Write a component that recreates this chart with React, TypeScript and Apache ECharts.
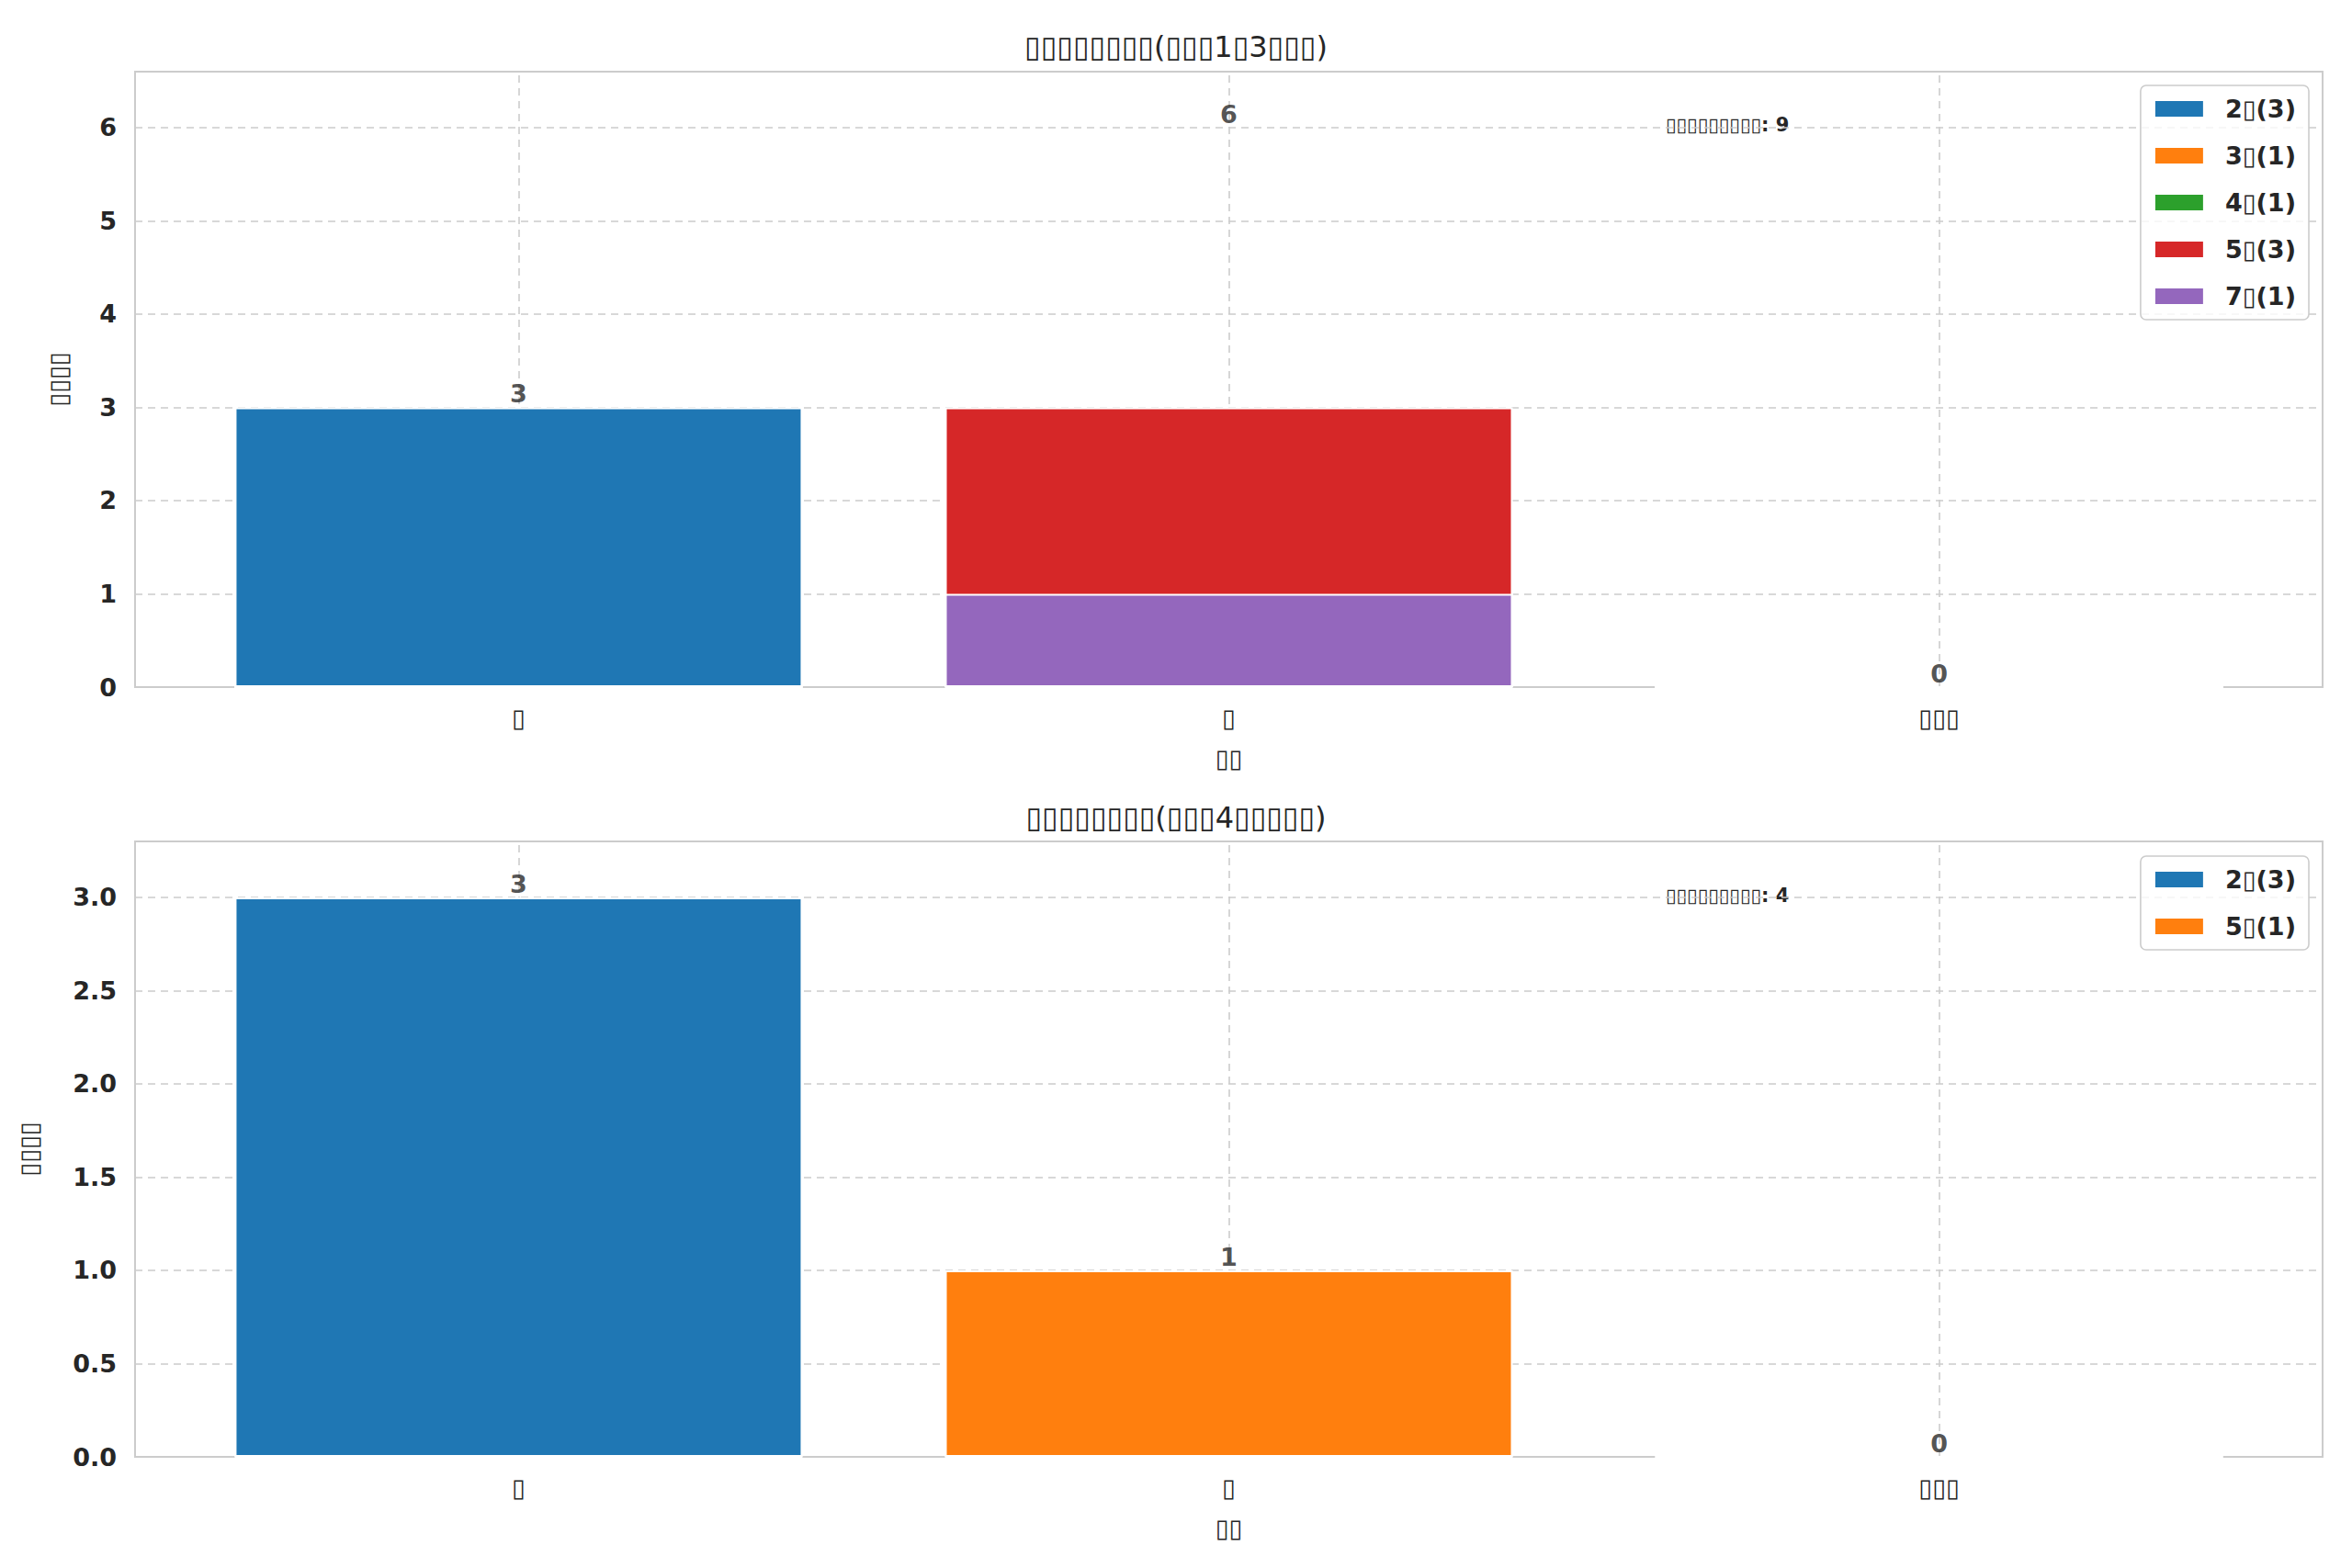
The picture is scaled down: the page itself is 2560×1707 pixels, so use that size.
import React, { useEffect, useRef } from "react";
import * as echarts from "echarts";

const B = "\u25AF";
const categories = [B, B, B + B + B];
const catPos = [0, 1, 2];

const title1 = B.repeat(8) + "(" + B.repeat(3) + "1" + B + "3" + B.repeat(3) + ")";
const title2 = B.repeat(8) + "(" + B.repeat(3) + "4" + B.repeat(5) + ")";
const yName = B.repeat(4);
const xName = B.repeat(2);
const noteLabel = B.repeat(9);

const COLORS = ["#1f77b4", "#ff7f0e", "#2ca02c", "#d62728", "#9467bd"];

// top panel: series name and its value in each category
const top1Names = ["2" + B + "(3)", "3" + B + "(1)", "4" + B + "(1)", "5" + B + "(3)", "7" + B + "(1)"];
const top1Vals = [
  [3, 0, 0],
  [0, 1, 0],
  [0, 1, 0],
  [0, 3, 0],
  [0, 1, 0],
];
const top1Totals = [3, 6, 0];
const top1Note = 9;

const top2Names = ["2" + B + "(3)", "5" + B + "(1)"];
const top2Vals = [
  [3, 0, 0],
  [0, 1, 0],
];
const top2Totals = [3, 1, 0];
const top2Note = 4;

const FONT = "DejaVu Sans, Noto Sans CJK SC, sans-serif";
const GRID_LINE = { color: "#cccccc", type: [8, 6] as any, width: 1.6 };

function buildOption(p: any) {
  const series: any[] = [
    {
      type: "scatter",
      name: "grid",
      symbolSize: 0,
      data: [],
      z: 0,
      markLine: {
        silent: true,
        symbol: "none",
        label: { show: false },
        lineStyle: GRID_LINE,
        data: catPos.map((c) => ({ xAxis: c })),
        z: 0,
      },
    },
  ];
  p.names.forEach((n: string, i: number) =>
    series.push({
      type: "bar",
      name: n,
      stack: "s",
      barWidth: 618,
      z: 3,
      data: p.vals[i].map((v: number, j: number) => [catPos[j], v]),
      itemStyle: { color: COLORS[i], borderColor: "#fff", borderWidth: v0(p.vals[i]) },
    })
  );
  series.push({
    type: "scatter",
    name: "totals",
    symbolSize: 0,
    z: 5,
    data: p.totals.map((t: number, i: number) => [catPos[i], t]),
    label: {
      show: true,
      position: "top",
      distance: 1,
      formatter: (d: any) => String(d.value[1]),
      fontSize: 27,
      fontWeight: "bold",
      color: "#262626",
      fontFamily: FONT,
    },
  });
  return {
    animation: false,
    textStyle: { fontFamily: FONT },
    title: {
      text: p.title,
      left: "center",
      top: p.titleTop,
      textStyle: { fontSize: 32, fontWeight: "normal", color: "#262626", fontFamily: FONT },
    },
    legend: {
      data: p.names,
      orient: "vertical",
      right: 47,
      top: p.legendTop,
      icon: "rect",
      itemWidth: 54,
      itemHeight: 19,
      itemGap: 24,
      padding: [12, 14, 12, 14],
      borderColor: "#cccccc",
      borderWidth: 1.6,
      borderRadius: 6,
      backgroundColor: "rgba(255,255,255,0.8)",
      textStyle: { fontSize: 27, fontWeight: "bold", color: "#262626", fontFamily: FONT, padding: [0, 0, 0, 18] },
    },
    grid: {
      left: 147,
      right: 32,
      top: p.gridTop,
      height: p.gridHeight,
      show: true,
      borderColor: "#cccccc",
      borderWidth: 2,
    },
    xAxis: {
      type: "value",
      min: -0.54,
      max: 2.54,
      name: xName,
      nameLocation: "middle",
      nameGap: 64,
      nameTextStyle: { fontSize: 27, color: "#262626" },
      axisLine: { show: false },
      axisTick: { show: false },
      splitLine: { show: false },
      axisLabel: {
        customValues: catPos,
        formatter: (v: number) => categories[Math.round(v)] ?? "",
        fontSize: 27,
        color: "#262626",
        margin: 20,
      },
    },
    yAxis: {
      type: "value",
      min: 0,
      max: p.yMax,
      interval: p.yInt,
      name: yName,
      nameLocation: "middle",
      nameGap: p.yNameGap,
      nameTextStyle: { fontSize: 27, color: "#262626" },
      axisLine: { show: false },
      axisTick: { show: false },
      axisLabel: {
        fontSize: 27,
        fontWeight: "bold",
        color: "#262626",
        margin: 20,
        formatter: (v: number) => (v > p.yMax - 0.2 ? "" : p.yFmt(v)),
      },
      splitLine: { lineStyle: GRID_LINE },
    },
    graphic: [
      {
        type: "text",
        left: 1813,
        top: p.noteTop,
        style: {
          text: noteLabel + ": " + p.note,
          fontSize: 21,
          fontWeight: "bold",
          fill: "#262626",
          fontFamily: FONT,
        },
      },
    ],
    series,
  };
}

function v0(_: number[]) {
  return 2;
}

function Panel({ opt, height }: { opt: any; height: number }) {
  const ref = useRef<HTMLDivElement>(null);
  useEffect(() => {
    const c = echarts.init(ref.current!, null, { renderer: "svg" });
    c.setOption(opt);
    return () => c.dispose();
  }, []);
  return <div ref={ref} style={{ width: 2560, height }} />;
}

export default function App() {
  const o1 = buildOption({
    names: top1Names, vals: top1Vals, totals: top1Totals, note: top1Note,
    title: title1, titleTop: 30, legendTop: 93, gridTop: 78, gridHeight: 670,
    yMax: 6.6, yInt: 1, yFmt: (v: number) => String(v), yNameGap: 70, noteTop: 125,
  });
  const o2 = buildOption({
    names: top2Names, vals: top2Vals, totals: top2Totals, note: top2Note,
    title: title2, titleTop: 16, legendTop: 79, gridTop: 63, gridHeight: 670,
    yMax: 3.3, yInt: 0.5, yFmt: (v: number) => v.toFixed(1), yNameGap: 102, noteTop: 111,
  });
  return (
    <div style={{ position: "absolute", left: 0, top: 0, background: "#fff" }}>
      <Panel opt={o1} height={853} />
      <Panel opt={o2} height={854} />
    </div>
  );
}
